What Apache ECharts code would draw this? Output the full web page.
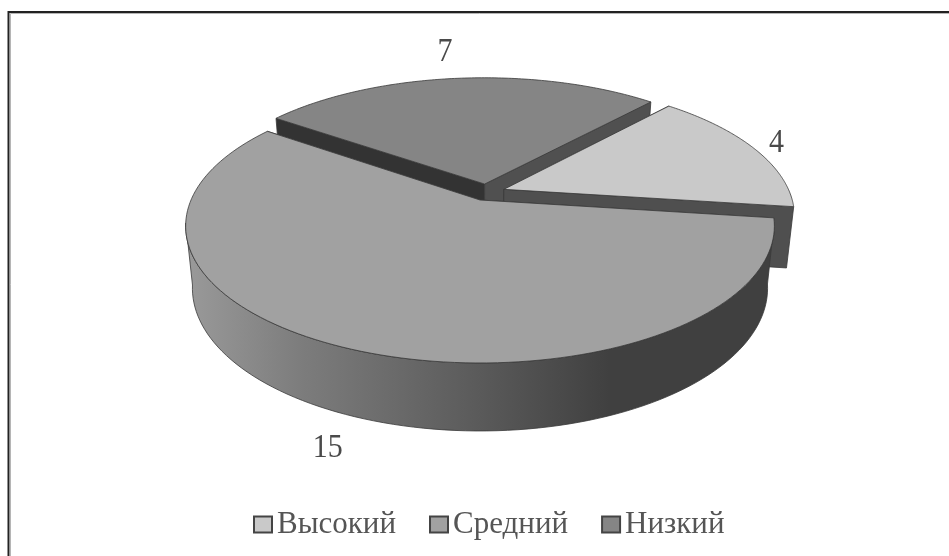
<!DOCTYPE html>
<html><head><meta charset="utf-8">
<style>html,body{margin:0;padding:0;background:#fff}#c{width:949px;height:556px}</style>
<script src="https://cdn.jsdelivr.net/npm/echarts@6/dist/echarts.min.js"></script>
</head><body><div id="c"></div>
<script>
const categories = ['Высокий', 'Средний', 'Низкий'];
const values = [4, 15, 7];
const topColors = ['#c9c9c9', '#a1a1a1', '#858585'];
const startFaceColors = ['#4f4f4f', '#4f4f4f', '#333333'];
const endFaceColors = ['#4f4f4f', '#4f4f4f', '#505050'];
const labelOffsets = [[23, -5], [-24, 99], [-13, -26]];

const START = 42.2, EXPLODE = 0.0643, K = 0.19;
const CX = 480, CY = 200, AX = 289, AY = 132;
const total = values.reduce((a, b) => a + b, 0);
const rad = d => d * Math.PI / 180;
const dir = d => [Math.sin(rad(d)), -Math.cos(rad(d))];

const spans = [];
let acc = START;
values.forEach(v => { spans.push([acc, acc + v / total * 360]); acc += v / total * 360; });
const mid = i => (spans[i][0] + spans[i][1]) / 2;
// the fitted projection is anchored on the largest slice's tip
const anchor = dir(mid(1)).map(c => c * EXPLODE);

function top3(X, Y) {
  const f = 1 / (1 - K * Y);
  return [CX + AX * X * f, CY + AY * Y * f];
}
function low3(p) {
  return [CX + (p[0] - CX) * 0.977, p[1] + 61 + (p[1] - CY) * 0.043];
}
function centre(i) {
  const d0 = dir(mid(i));
  return [EXPLODE * d0[0] - anchor[0], EXPLODE * d0[1] - anchor[1]];
}
function sliceItem(i) {
  return function () {
    const c = centre(i);
    const apex = top3(c[0], c[1]);
    const arc = [];
    const n = 120;
    for (let j = 0; j <= n; j++) {
      const a = spans[i][0] + (spans[i][1] - spans[i][0]) * j / n;
      const u = dir(a);
      arc.push(top3(c[0] + u[0], c[1] + u[1]));
    }
    const edge = { stroke: '#3a3a3a', lineWidth: 0.8 };
    const children = [];
    const face = (pts, fill) => children.push({
      type: 'polygon', shape: { points: pts }, style: Object.assign({ fill }, edge)
    });
    const wall = pts => pts.concat(pts.slice().reverse().map(low3));
    face(wall([apex, arc[0]]), startFaceColors[i]);
    face(wall([apex, arc[n]]), endFaceColors[i]);
    // outer wall: only the part of the rim that faces the viewer
    const rim = arc.filter(p => p[1] >= CY + 20);
    if (rim.length > 1) {
      children.push({
        type: 'polygon', shape: { points: wall(rim) },
        style: Object.assign({
          fill: {
            type: 'linear', x: 0, y: 0, x2: 1, y2: 0,
            colorStops: [
              { offset: 0, color: '#9a9a9a' },
              { offset: 0.2, color: '#7c7c7c' },
              { offset: 0.5, color: '#5a5a5a' },
              { offset: 0.72, color: '#404040' },
              { offset: 1, color: '#404040' }
            ]
          }
        }, edge)
      });
    }
    face([apex].concat(arc), topColors[i]);
    return { type: 'group', children };
  };
}
function labelItem(i) {
  return function () {
    const c = centre(i);
    const d0 = dir(mid(i));
    const p = top3(c[0] + d0[0], c[1] + d0[1]);
    return {
      type: 'text',
      x: p[0] + labelOffsets[i][0], y: p[1] + labelOffsets[i][1],
      scaleY: 1.13,
      style: {
        text: String(values[i]), fill: '#4a4a4a',
        font: '30px "Liberation Serif"', align: 'center', verticalAlign: 'middle'
      }
    };
  };
}
const zOrder = [2, 3, 1];
const series = categories.map((name, i) => ({
  type: 'custom', name, coordinateSystem: 'none', z: zOrder[i],
  data: [values[i]], renderItem: sliceItem(i), silent: true,
  itemStyle: { color: topColors[i] }
}));
categories.forEach((name, i) => series.push({
  type: 'custom', coordinateSystem: 'none', z: 5,
  data: [values[i]], renderItem: labelItem(i), silent: true
}));

const chart = echarts.init(document.getElementById('c'), null, { renderer: 'canvas' });
chart.setOption({
  animation: false,
  backgroundColor: '#ffffff',
  legend: {
    left: 253, top: 509, itemWidth: 18, itemHeight: 16, itemGap: 33, padding: 0,
    data: categories,
    icon: 'rect',
    itemStyle: { borderColor: '#444444', borderWidth: 2 },
    textStyle: { fontFamily: 'Liberation Serif', fontSize: 31, color: '#555555' }
  },
  graphic: [{
    type: 'polyline', silent: true, z: 0,
    shape: { points: [[10.5, 556], [10.5, 13.5], [949, 13.5]] },
    style: { fill: 'none', stroke: '#b5b5b5', lineWidth: 1 }
  }, {
    type: 'polyline', silent: true, z: 0,
    shape: { points: [[8.5, 556], [8.5, 12], [949, 12]] },
    style: { fill: 'none', stroke: '#222222', lineWidth: 2 }
  }],
  series
});
</script></body></html>
